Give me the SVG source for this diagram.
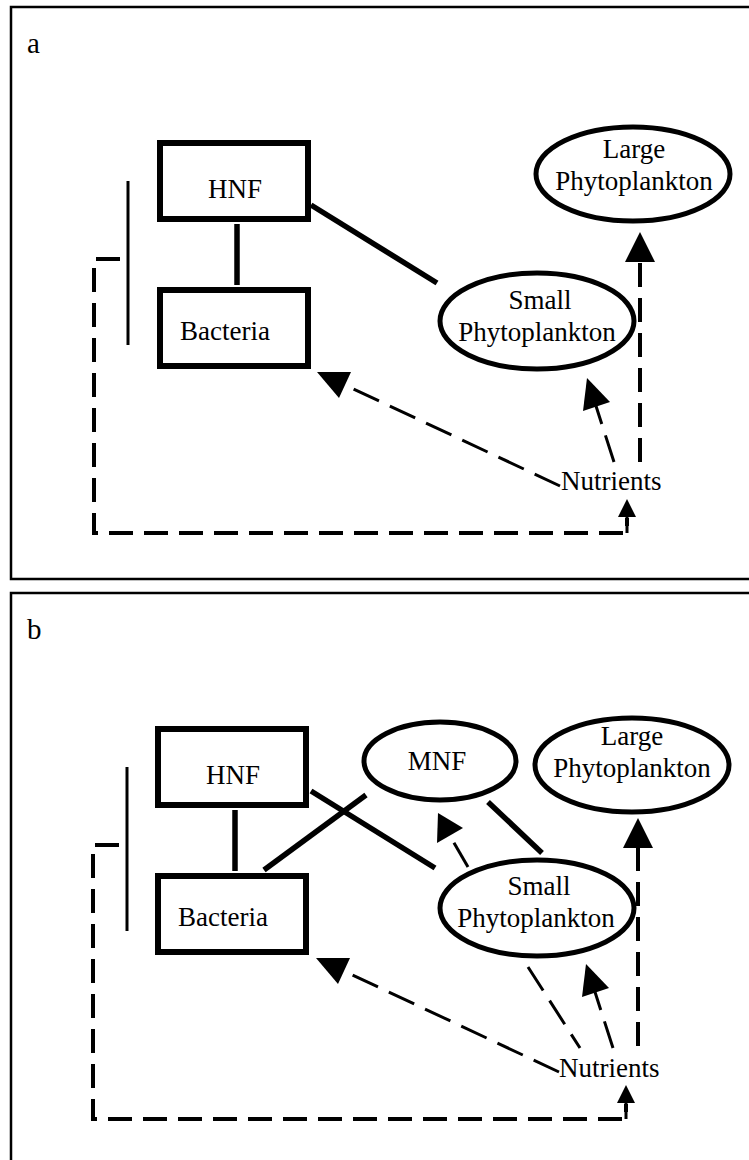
<svg xmlns="http://www.w3.org/2000/svg" width="749" height="1160" viewBox="0 0 749 1160">
<style>
  text { font-family: "Liberation Serif", "Times New Roman", serif; font-size: 27px; fill: #000; }
  .label { font-size: 29px; }
  .frame { fill: none; stroke: #000; stroke-width: 2.5; }
  .box { fill: #fff; stroke: #000; stroke-width: 6; }
  .oval { fill: #fff; stroke: #000; stroke-width: 5; }
  .solid { fill: none; stroke: #000; stroke-width: 5.5; }
  .thin { fill: none; stroke: #000; stroke-width: 3; }
  .dash { fill: none; stroke: #000; stroke-width: 3; stroke-dasharray: 28 12; }
  .dashb { fill: none; stroke: #000; stroke-width: 4; stroke-dasharray: 24 11; }
  .head { fill: #000; stroke: none; }
</style>

<!-- Panel a -->
<g id="panel-a">
  <path class="frame" d="M 749 7 H 11 V 579 H 749"/>
  <text class="label" x="27" y="53">a</text>

  <g id="a-connectors">
    <line class="solid" x1="237" y1="224" x2="237" y2="285" stroke-width="6.5"/>
    <line class="solid" x1="311" y1="205" x2="437" y2="283"/>
    <line class="thin" x1="128" y1="181" x2="128" y2="345"/>
    <path class="dashb" d="M 120 259 H 94 V 533 H 627 V 518"/>
    <line class="thin" x1="627" y1="533" x2="627" y2="514" stroke-width="3.5"/>
    <polygon class="head" points="627,499 636,517 618,517"/>
    <line class="dash" x1="560" y1="486" x2="345" y2="385"/>
    <polygon class="head" points="317,372 351,372 339,398"/>
    <line class="dash" x1="614" y1="462" x2="596" y2="406"/>
    <polygon class="head" points="587,378 610,402 583,411"/>
    <line class="dashb" x1="640" y1="462" x2="640" y2="258" stroke-width="4.5"/>
    <polygon class="head" points="640,232 655,262 625,262"/>
  </g>

  <g id="a-hnf">
    <rect class="box" x="160" y="143" width="148" height="76"/>
    <text x="235" y="198" text-anchor="middle">HNF</text>
  </g>
  <g id="a-bacteria">
    <rect class="box" x="160" y="290" width="148" height="76"/>
    <text x="180" y="340">Bacteria</text>
  </g>
  <g id="a-small">
    <ellipse class="oval" cx="537" cy="321" rx="97" ry="48"/>
    <text x="540" y="309" text-anchor="middle">Small</text>
    <text x="537" y="341" text-anchor="middle">Phytoplankton</text>
  </g>
  <g id="a-large">
    <ellipse class="oval" cx="633" cy="174" rx="97" ry="47"/>
    <text x="634" y="158" text-anchor="middle">Large</text>
    <text x="634" y="190" text-anchor="middle">Phytoplankton</text>
  </g>
  <g id="a-nutrients">
    <text x="561" y="490">Nutrients</text>
  </g>
</g>

<!-- Panel b -->
<g id="panel-b">
  <path class="frame" d="M 749 593 H 11 V 1160"/>
  <text class="label" x="27" y="639">b</text>

  <g id="b-connectors">
    <line class="solid" x1="235" y1="810" x2="235" y2="871" stroke-width="6.5"/>
    <line class="solid" x1="311" y1="791" x2="435" y2="868"/>
    <line class="solid" x1="366" y1="795" x2="264" y2="870"/>
    <line class="solid" x1="488" y1="802" x2="542" y2="853"/>
    <line class="thin" x1="127" y1="767" x2="127" y2="931"/>
    <path class="dashb" d="M 119 845 H 93 V 1119 H 626 V 1104"/>
    <line class="thin" x1="626" y1="1119" x2="626" y2="1100" stroke-width="3.5"/>
    <polygon class="head" points="626,1085 635,1103 617,1103"/>
    <line class="dash" x1="559" y1="1072" x2="344" y2="971"/>
    <polygon class="head" points="316,958 350,958 338,984"/>
    <line class="dash" x1="613" y1="1048" x2="595" y2="992"/>
    <polygon class="head" points="586,964 609,988 582,997"/>
    <line class="dash" x1="528" y1="967" x2="580" y2="1048"/>
    <line class="dash" x1="468" y1="867" x2="450" y2="836"/>
    <polygon class="head" points="438,813 463,828 437,843"/>
    <line class="dashb" x1="638" y1="1046" x2="638" y2="844" stroke-width="4.5"/>
    <polygon class="head" points="638,818 653,848 623,848"/>
  </g>

  <g id="b-hnf">
    <rect class="box" x="158" y="729" width="148" height="76"/>
    <text x="233" y="784" text-anchor="middle">HNF</text>
  </g>
  <g id="b-bacteria">
    <rect class="box" x="158" y="876" width="148" height="76"/>
    <text x="178" y="926">Bacteria</text>
  </g>
  <g id="b-mnf">
    <ellipse class="oval" cx="440" cy="761" rx="76" ry="39"/>
    <text x="437" y="770" text-anchor="middle">MNF</text>
  </g>
  <g id="b-small">
    <ellipse class="oval" cx="537" cy="908" rx="97" ry="48"/>
    <text x="539" y="895" text-anchor="middle">Small</text>
    <text x="536" y="927" text-anchor="middle">Phytoplankton</text>
  </g>
  <g id="b-large">
    <ellipse class="oval" cx="632" cy="765" rx="97" ry="47"/>
    <text x="632" y="745" text-anchor="middle">Large</text>
    <text x="632" y="777" text-anchor="middle">Phytoplankton</text>
  </g>
  <g id="b-nutrients">
    <text x="559" y="1077">Nutrients</text>
  </g>
</g>
</svg>
